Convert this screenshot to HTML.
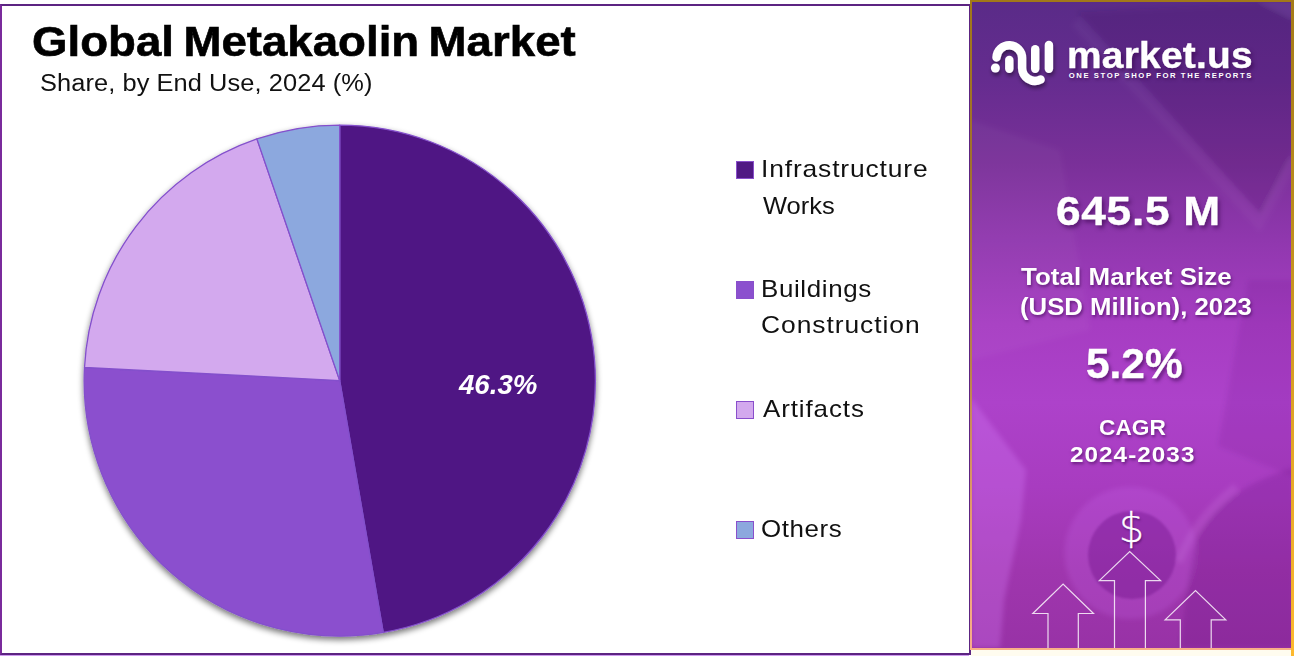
<!DOCTYPE html>
<html lang="en">
<head>
<meta charset="utf-8">
<title>Global Metakaolin Market</title>
<style>
html,body{margin:0;padding:0;}
body{width:1294px;height:656px;position:relative;overflow:hidden;background:#fff;font-family:"Liberation Sans",Arial,sans-serif;}
.abs{position:absolute;white-space:nowrap;line-height:1;transform-origin:0 0;}
#chartbox{position:absolute;left:0;top:4px;width:966.6px;height:647px;border:2px solid #5c2482;border-left-color:#7a2a9c;background:#fff;}
#lilac{position:absolute;left:0;top:655px;width:969px;height:1px;background:#cf9aef;}
#title{font-weight:bold;color:#000;-webkit-text-stroke:0.6px #000;}
#subtitle{color:#111;}
.leg{color:#111;}
.sw{position:absolute;left:736px;width:16.3px;height:15.7px;border:1.2px solid #8a4fcc;}
#pct{font-weight:bold;font-style:italic;color:#fff;}
#panel{position:absolute;left:969.5px;top:0;width:324.5px;height:649.6px;overflow:hidden;background:linear-gradient(180deg,#a27818 0%,#a0702c 25%,#b88048 55%,#eea270 85%,#f8b088 100%);}
#pbg{position:absolute;left:2.2px;top:2.2px;right:2.8px;bottom:1.8px;overflow:hidden;background:linear-gradient(180deg,#5a2b88 0%,#652c8f 12%,#7a3099 25%,#9238b0 38%,#a63dc2 50%,#ad42ca 62%,#a83cc0 75%,#9f36ae 88%,#9832a6 100%);}
#pr{position:absolute;left:1291.2px;top:0;width:2.8px;height:656px;background:linear-gradient(180deg,#a47a18 0%,#b88a1c 30%,#e0a426 65%,#fdb92e 100%);}
#cream{position:absolute;left:971px;top:649.6px;width:320.2px;height:6.4px;background:#fffcef;}
.w{color:#fff;font-weight:bold;text-shadow:1px 2px 3px rgba(50,0,70,.55);}
#big1,#big2,#brand{text-shadow:2px 3px 4px rgba(50,0,70,.6);-webkit-text-stroke:0.4px #fff;}
/*FIT*/
#title{left:31.6px;top:20.8px;font-size:42.0px;letter-spacing:0px;word-spacing:-3px;transform:scaleX(1.0864);}
#subtitle{left:40.2px;top:72.4px;font-size:23.5px;letter-spacing:0.08px;transform:scaleX(1.08);}
#l1a{left:760.5px;top:157.1px;font-size:24px;letter-spacing:0.78px;transform:scaleX(1.1);}
#l1b{left:762.7px;top:193.6px;font-size:24px;letter-spacing:0px;transform:scaleX(1.0612);}
#l2a{left:760.5px;top:276.7px;font-size:24px;letter-spacing:0.59px;transform:scaleX(1.08);}
#l2b{left:761.3px;top:312.7px;font-size:24px;letter-spacing:0.86px;transform:scaleX(1.1);}
#l3{left:762.7px;top:396.7px;font-size:24px;letter-spacing:0.84px;transform:scaleX(1.08);}
#l4{left:761.3px;top:517.0px;font-size:24px;letter-spacing:0.56px;transform:scaleX(1.08);}
#pct{left:459.0px;top:371.1px;font-size:28px;letter-spacing:0px;transform:scaleX(0.9873);}
#brand{left:1066.5px;top:37.9px;font-size:36px;letter-spacing:0.22px;transform:scaleX(1.08);}
#tag{left:1068.7px;top:71.5px;font-size:7.7px;letter-spacing:1.58px;transform:scaleX(1);}
#big1{left:1055.8px;top:190.6px;font-size:41.0px;letter-spacing:0.63px;transform:scaleX(1.08);}
#t1{left:1021.0px;top:265.3px;font-size:24.0px;letter-spacing:0.05px;transform:scaleX(1.08);}
#t2{left:1019.9px;top:294.7px;font-size:24.0px;letter-spacing:0px;transform:scaleX(1.0729);}
#big2{left:1085.7px;top:343.2px;font-size:42.5px;letter-spacing:0px;transform:scaleX(0.9979);}
#c1{left:1098.5px;top:418.1px;font-size:21.5px;letter-spacing:0px;transform:scaleX(1.0548);}
#c2{left:1069.5px;top:445.1px;font-size:21.5px;letter-spacing:0.91px;transform:scaleX(1.13);}
/*ENDFIT*/
</style>
</head>
<body>
<div id="chartbox"></div>
<div id="lilac"></div>

<div id="title" class="abs">Global Metakaolin Market</div>
<div id="subtitle" class="abs">Share, by End Use, 2024 (%)</div>

<svg id="pie" class="abs" style="left:0;top:0" width="966" height="656" viewBox="0 0 966 656">
<defs>
<filter id="ds" x="-10%" y="-10%" width="120%" height="120%">
<feGaussianBlur in="SourceAlpha" stdDeviation="3"/>
<feOffset dx="0" dy="3" result="b"/>
<feComponentTransfer><feFuncA type="linear" slope="0.55"/></feComponentTransfer>
<feMerge><feMergeNode/><feMergeNode in="SourceGraphic"/></feMerge>
</filter>
</defs>
<g filter="url(#ds)" stroke="#8450cc" stroke-width="1.3" stroke-linejoin="round">
<path d="M339.7 380.6L339.7 125.1A255.5 255.5 0 0 1 383.2 632.4Z" fill="#501884"/>
<path d="M339.7 380.6L383.2 632.4A255.5 255.5 0 0 1 84.5 367.5Z" fill="#8B50CE"/>
<path d="M339.7 380.6L84.5 367.5A255.5 255.5 0 0 1 256.9 138.9Z" fill="#D3A9EE"/>
<path d="M339.7 380.6L256.9 138.9A255.5 255.5 0 0 1 339.7 125.1Z" fill="#8CA8DE"/>
</g>
</svg>
<div id="pct" class="abs">46.3%</div>

<div class="sw" style="top:161.2px;background:#501884"></div>
<div id="l1a" class="abs leg">Infrastructure</div>
<div id="l1b" class="abs leg">Works</div>
<div class="sw" style="top:281px;background:#8B50CE"></div>
<div id="l2a" class="abs leg">Buildings</div>
<div id="l2b" class="abs leg">Construction</div>
<div class="sw" style="top:401.2px;background:#D3A9EE"></div>
<div id="l3" class="abs leg">Artifacts</div>
<div class="sw" style="top:521.4px;background:#8CA8DE"></div>
<div id="l4" class="abs leg">Others</div>

<div id="panel"><div id="pbg"></div></div>
<div id="pr"></div><div id="cream"></div>

<svg id="deco" class="abs" style="left:0;top:0" width="1294" height="656" viewBox="0 0 1294 656">
<defs>
<filter id="ls" x="-20%" y="-20%" width="140%" height="150%">
<feGaussianBlur in="SourceAlpha" stdDeviation="2"/>
<feOffset dx="1" dy="3"/>
<feComponentTransfer><feFuncA type="linear" slope="0.45"/></feComponentTransfer>
<feMerge><feMergeNode/><feMergeNode in="SourceGraphic"/></feMerge>
</filter>
<clipPath id="pc"><rect x="971.7" y="2.2" width="319.5" height="645.6"/></clipPath>
<filter id="soft1" x="-20%" y="-20%" width="140%" height="140%"><feGaussianBlur stdDeviation="1"/></filter>
<filter id="soft" x="-20%" y="-20%" width="140%" height="140%"><feGaussianBlur stdDeviation="2.5"/></filter>
</defs>
<g id="bgshapes" clip-path="url(#pc)"><g filter="url(#soft)">
<path d="M1261 0L1294 0L1294 18L1261 2Z" fill="#fff" fill-opacity=".05"/>
<path d="M1077 12L1261 3L1294 20L1294 150L1261 215Z" fill="#2a0050" fill-opacity=".13"/>
<path d="M1075 22L1259 224L1294 160" fill="none" stroke="#fff" stroke-opacity=".03" stroke-width="10"/>
<path d="M971 120L1060 150L1090 330L971 360Z" fill="#fff" fill-opacity=".03"/>
<path d="M1248 280L1218 446L1294 477L1294 280Z" fill="#50006a" fill-opacity=".10"/>
<path d="M971 398L1026 470L1021 520L1004 600L1000 648L971 648Z" fill="#dc81ff" fill-opacity=".28"/>
<circle cx="1130.5" cy="553" r="66" fill="#d878ff" fill-opacity=".17"/>
<path d="M1294 467C1250 482 1215 500 1196 540C1186 575 1184 620 1180 648L1294 648Z" fill="#50006a" fill-opacity=".16"/>
<path d="M1179 562Q1194 520 1236 487" fill="none" stroke="#e6a8ff" stroke-opacity=".13" stroke-width="8"/>
</g>
<circle cx="1132" cy="555" r="44" fill="#5a0078" fill-opacity=".30" filter="url(#soft1)"/>
</g>
<g id="logo" filter="url(#ls)" fill="none" stroke="#fff" stroke-width="8.4" stroke-linecap="round">
<path d="M996.5 57.5A12.8 12.8 0 0 1 1022.1 58.5L1022.1 68A12.9 12.9 0 0 0 1040.6 79.5"/>
<path d="M1009.3 60V68.7"/>
<path d="M1035.2 49.3V68.7"/>
<path d="M1048.9 44.9V68.7"/>
<circle cx="995.4" cy="68" r="4.5" fill="#fff" stroke="none"/>
</g>
<g id="arrows" fill="none" stroke="#fff" stroke-opacity=".82" stroke-width="1.2" stroke-linejoin="miter">
<path d="M1114.5 648V580.6H1099.3L1129.7 551.5L1160.6 580.6H1145.4V648"/>
<path d="M1048 648V613.5H1032.8L1063.1 584.1L1093.5 613.5H1078.3V648"/>
<path d="M1180.3 648V619.8H1165.1L1195.5 590.5L1225.8 619.8H1211.2V648"/>
</g>
</svg>
<div id="dollar" class="abs" style="left:1118.8px;top:508.2px;font-family:'DejaVu Sans Light','DejaVu Sans',sans-serif;font-weight:200;font-size:40px;color:#fff;-webkit-text-stroke:0.3px #fff;text-shadow:1px 2px 2px rgba(50,0,70,.5)">$</div>
<div id="brand" class="abs w">market.us</div>
<div id="tag" class="abs w">ONE STOP SHOP FOR THE REPORTS</div>
<div id="big1" class="abs w">645.5 M</div>
<div id="t1" class="abs w">Total Market Size</div>
<div id="t2" class="abs w">(USD Million), 2023</div>
<div id="big2" class="abs w">5.2%</div>
<div id="c1" class="abs w">CAGR</div>
<div id="c2" class="abs w">2024-2033</div>
</body>
</html>
